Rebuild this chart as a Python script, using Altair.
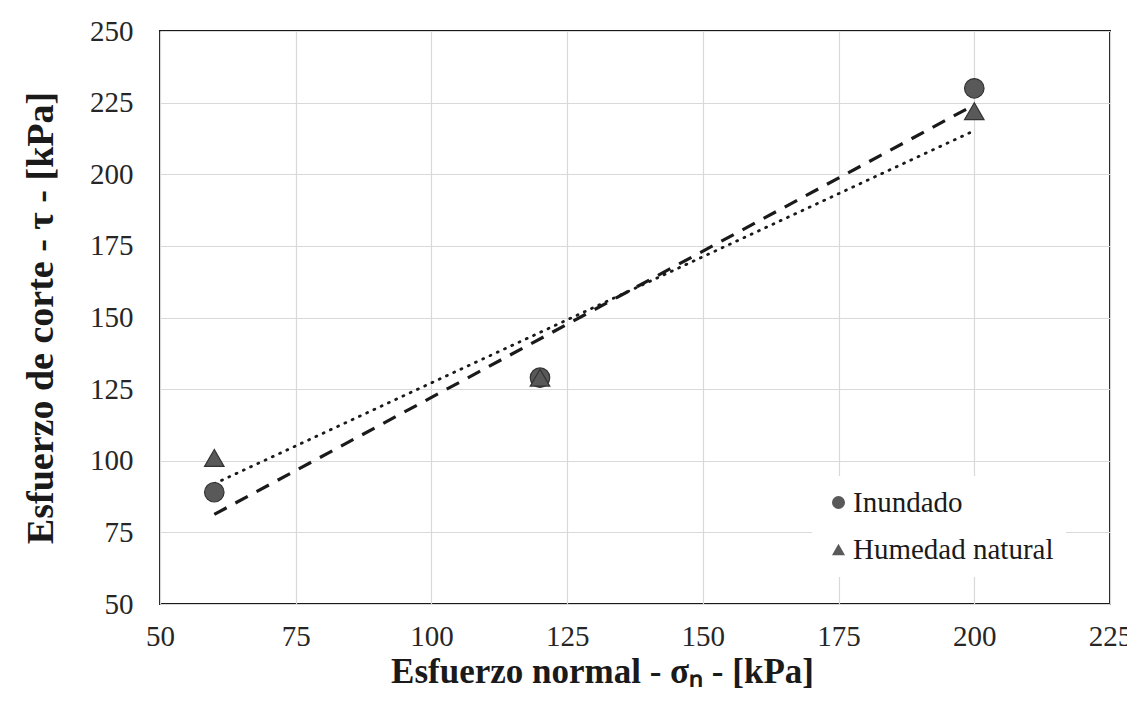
import altair as alt
import pandas as pd

series_names = ["Inundado", "Humedad natural"]
sigma_n = [60, 120, 200]
tau_inundado = [89, 129, 230]
tau_humedad = [101, 129, 222]

x_ticks = [50, 75, 100, 125, 150, 175, 200, 225]
y_ticks = [50, 75, 100, 125, 150, 175, 200, 225, 250]

rows = []
for name, vals in zip(series_names, [tau_inundado, tau_humedad]):
    for xv, yv in zip(sigma_n, vals):
        rows.append({"serie": name, "sigma": xv, "tau": yv})
df = pd.DataFrame(rows)

serif = "Liberation Serif"

x_enc = alt.X("sigma:Q", scale=alt.Scale(domain=[50, 225], nice=False, zero=False),
              axis=alt.Axis(values=x_ticks, title="Esfuerzo normal - σₙ - [kPa]",
                            titleFont=serif, titleFontSize=35, titleFontWeight="bold",
                            titleColor="#1a1a1a", titlePadding=3, titleX=442,
                            labelFont=serif, labelFontSize=29, labelColor="#262626",
                            labelPadding=18, labelFlush=False, ticks=False, domain=False,
                            gridColor="#d9d9d9", gridWidth=1.2))
y_enc = alt.Y("tau:Q", scale=alt.Scale(domain=[50, 250], nice=False, zero=False),
              axis=alt.Axis(values=y_ticks, title="Esfuerzo de corte - τ - [kPa]",
                            titleFont=serif, titleFontSize=38, titleFontWeight="bold",
                            titleColor="#1a1a1a", titlePadding=29,
                            labelFont=serif, labelFontSize=29, labelColor="#262626",
                            labelPadding=27, ticks=False, domain=False,
                            gridColor="#d9d9d9", gridWidth=1.2))

base = alt.Chart(df)

line_inund = base.transform_filter(alt.datum.serie == "Inundado").transform_regression(
    "sigma", "tau").mark_line(color="#1a1a1a", strokeWidth=3.2, strokeDash=[14, 10]).encode(
    x=x_enc, y=y_enc)

line_hum = base.transform_filter(alt.datum.serie == "Humedad natural").transform_regression(
    "sigma", "tau").mark_line(color="#1a1a1a", strokeWidth=2.8, strokeDash=[1, 7],
                              strokeCap="round").encode(x=x_enc, y=y_enc)

points = base.mark_point(filled=True, size=380, opacity=1, stroke="#333333",
                         strokeWidth=1.2, fill="#595959").encode(
    x=x_enc, y=y_enc,
    shape=alt.Shape("serie:N",
                    scale=alt.Scale(domain=series_names, range=["circle", "triangle-up"]),
                    sort=series_names,
                    legend=alt.Legend(title=None, orient="none", legendX=652, legendY=445,
                                      labelFont=serif, labelFontSize=29, labelColor="#1a1a1a",
                                      labelLimit=400,
                                      symbolSize=170, symbolFillColor="#595959",
                                      symbolStrokeColor="#333333", symbolStrokeWidth=1,
                                      rowPadding=17, labelOffset=0,
                                      fillColor="white", padding=12)),
)

chart = alt.layer(line_inund, line_hum, points).properties(
    width=950, height=573,
    autosize=alt.AutoSizeParams(type="none"),
    padding={"left": 152, "top": 23, "right": 17, "bottom": 89},
    background="white",
).configure_view(stroke="#1a1a1a", strokeWidth=2)

chart.save("out.html", embed_options={"renderer": "svg", "actions": False})
